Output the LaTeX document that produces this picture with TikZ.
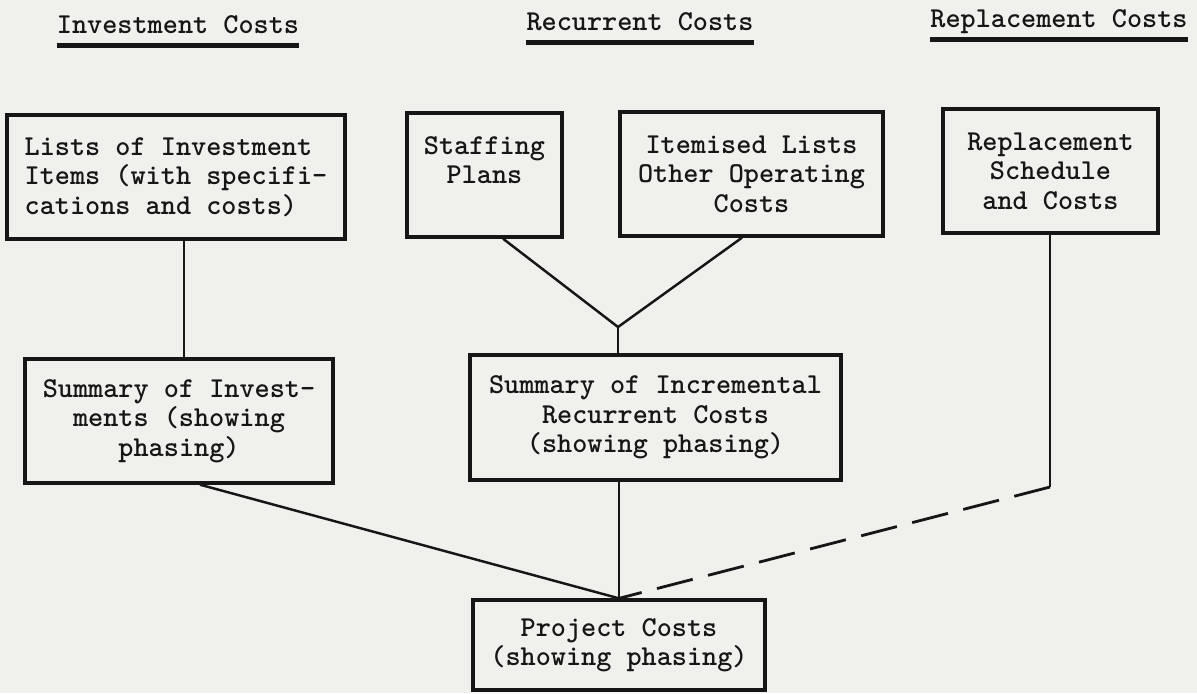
\documentclass[tikz,border=0pt]{standalone}
\usepackage{fontspec}
\usepackage{tikz}
\usetikzlibrary{positioning, calc}
\definecolor{paper}{RGB}{240,240,237}
\definecolor{ink}{RGB}{22,22,22}
\newcommand\typew{\fontsize{16.4}{16.8}\selectfont\ttfamily\bfseries}

\begin{document}
\begin{tikzpicture}[x=0.2mm, y=-0.2mm, ink,
    costbox/.style={draw, line width=1.9pt, inner sep=0pt, align=center, font=\typew},
    heading/.style={inner sep=0pt, text depth=0pt, font=\typew},
    underline/.style={line width=2.6pt},
    link/.style={line width=1.4pt},
    dashlink/.style={line width=1.6pt, dash pattern=on 21pt off 9pt}]
    \def\u{0.2mm}  % one pixel of the page
    % Page
    \fill[paper] (0,0) rectangle (1197,693);
    \useasboundingbox (0,0) rectangle (1197,693);
    % Column headings
    \node[heading] (invhead) at (178,25) {Investment Costs};
    \node[heading] (rechead) at (640,22) {Recurrent Costs};
    \node[heading] (rephead) at (1059,19) {Replacement Costs};
    \foreach \h in {invhead, rechead, rephead} {
      \draw[underline] ([yshift=-2.2mm]\h.south west) -- ([yshift=-2.2mm]\h.south east);
    }
    % Top row
    \node[costbox, align=left, minimum width=338*\u, minimum height=124*\u]
      (items) at (176,177) {Lists of Investment\\Items (with specifi-\\cations and costs)};
    \node[costbox, minimum width=155*\u, minimum height=124*\u]
      (staff) at (484.5,175) {Staffing\\Plans\\\mbox{}};
    \node[costbox, minimum width=263*\u, minimum height=124*\u]
      (other) at (751.5,174) {Itemised Lists\\Other Operating\\Costs};
    \node[costbox, minimum width=215*\u, minimum height=124*\u]
      (replace) at (1050.5,171) {Replacement\\Schedule\\and Costs};
    % Summaries
    \node[costbox, minimum width=308*\u, minimum height=124*\u]
      (invsum) at (179,421) {Summary of Invest-\\ments (showing\\phasing)};
    \node[costbox, minimum width=371*\u, minimum height=125*\u]
      (recsum) at (655.5,417.5) {Summary of Incremental\\Recurrent Costs\\(showing phasing)};
    % Result
    \node[costbox, minimum width=292*\u, minimum height=90*\u]
      (project) at (619,645) {Project Costs\\(showing phasing)};
    % Connectors
    \coordinate (join) at (618,327);
    \coordinate (kink) at (1050,487);
    \draw[link] (items.south -| 184,0) -- (invsum.north -| 184,0);
    \draw[link] (staff.south -| 503,0) -- (join) -- (other.south -| 742,0);
    \draw[link] (join) -- (recsum.north -| join);
    \draw[link] (recsum.south -| project.north) -- (project.north);
    \draw[link] (invsum.south -| 200,0) -- (project.north);
    \draw[link] (replace.south -| kink) -- (kink);
    \draw[dashlink] (kink) -- (project.north);
\end{tikzpicture}
\end{document}
